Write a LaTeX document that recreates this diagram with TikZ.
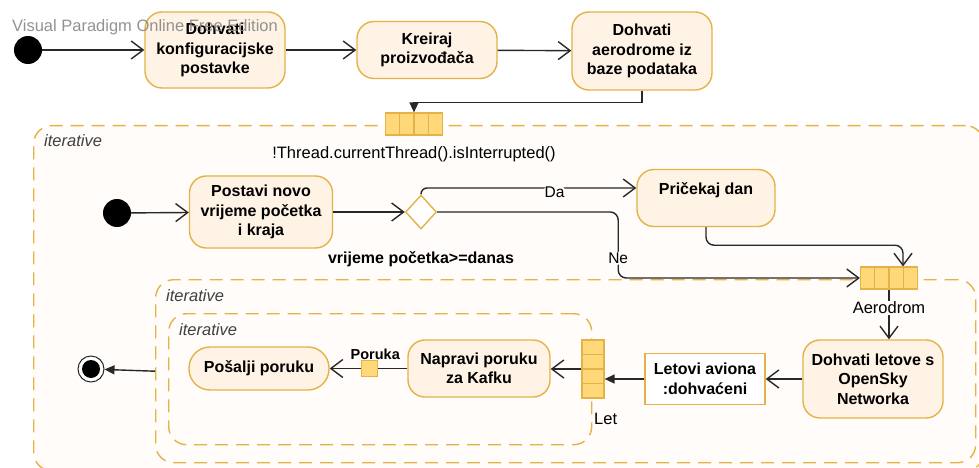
\documentclass[tikz,border=0pt]{standalone}
\usepackage{fontspec}
\setmainfont{Liberation Sans}
\usetikzlibrary{arrows.meta}
\usetikzlibrary{positioning}
\usetikzlibrary{calc}
\usetikzlibrary{shapes.geometric}

\definecolor{gold}{RGB}{229,178,72}
\definecolor{actfill}{RGB}{255,243,229}
\definecolor{pinfill}{RGB}{255,216,122}
\definecolor{regfill}{RGB}{255,252,249}
\definecolor{wire}{RGB}{40,40,40}

\begin{document}
\begin{tikzpicture}[x=1pt, y=-1pt,
    actbox/.style={draw=gold, fill=actfill, line width=1.4pt, rounded corners=17pt, align=center, inner sep=2pt, font=\bfseries\fontsize{16}{19.5}\selectfont},
    objbox/.style={draw=gold, fill=white, line width=1.4pt, align=center, inner sep=2pt, font=\bfseries\fontsize{16}{19.5}\selectfont},
    loopregion/.style={draw=gold, fill=regfill, line width=1.4pt, dash pattern=on 13pt off 8pt, rounded corners=18pt, anchor=north west, inner sep=0pt},
    itlabel/.style={font=\itshape\fontsize{16.5}{19}\selectfont, text=black!75, inner sep=0pt, anchor=north west},
    startdot/.style={circle, fill=black, minimum size=28pt, inner sep=0pt},
    pinh/.style={draw=gold, fill=pinfill, line width=1.2pt, minimum width=57pt, minimum height=22pt, inner sep=0pt,
        path picture={\foreach \i in {1,2,3} \draw[gold, line width=1.2pt] ($(path picture bounding box.south west)!\i/4!(path picture bounding box.south east)$) -- ($(path picture bounding box.north west)!\i/4!(path picture bounding box.north east)$);}},
    pinv/.style={draw=gold, fill=pinfill, line width=1.2pt, minimum width=22pt, minimum height=58pt, inner sep=0pt,
        path picture={\foreach \i in {1,2,3} \draw[gold, line width=1.2pt] ($(path picture bounding box.south west)!\i/4!(path picture bounding box.north west)$) -- ($(path picture bounding box.south east)!\i/4!(path picture bounding box.north east)$);}},
    smallpin/.style={draw=gold, fill=pinfill, line width=1.2pt, minimum size=16pt, inner sep=0pt},
    flow/.style={draw=wire, line width=1.4pt, -{Straight Barb[length=12pt, width=18pt]}},
    solidflow/.style={draw=wire, line width=1.4pt, -{Triangle[length=10pt, width=9pt]}},
    lbl/.style={font=\fontsize{16.5}{19}\selectfont, inner sep=1pt},
]
\fill[white] (0,0) rectangle (979,468);
\useasboundingbox (0,0) rectangle (979,468);

\node[loopregion, minimum width=950pt, minimum height=345pt] (loop1) at (33,125) {};
\node[itlabel] (it1) at ([shift={(11pt,-9pt)}]loop1.north west) {iterative};
\node[loopregion, minimum width=820pt, minimum height=183pt] (loop2) at (155,279) {};
\node[itlabel] (it2) at ([shift={(11pt,-10pt)}]loop2.north west) {iterative};
\node[loopregion, minimum width=423pt, minimum height=131pt] (loop3) at (168,313) {};
\node[itlabel] (it3) at ([shift={(11pt,-10pt)}]loop3.north west) {iterative};

\node[startdot] (init1) at (28,50) {};
\node[actbox, minimum width=140pt, minimum height=76pt] (conf) at (215,50) {Dohvati\\konfiguracijske\\postavke};
\node[actbox, minimum width=140pt, minimum height=57pt] (prod) at (427,50) {Kreiraj\\proizvođača};
\node[actbox, minimum width=140pt, minimum height=78pt] (airports) at (642,51) {Dohvati\\aerodrome iz\\baze podataka};
\node[pinh, label={[lbl, label distance=10pt]below:!Thread.currentThread().isInterrupted()}] (pin1) at (414,124) {};

\node[startdot] (init2) at (117,213) {};
\node[actbox, minimum width=143pt, minimum height=72pt] (reset) at (261,212) {Postavi novo\\vrijeme početka\\i kraja};
\node[diamond, draw=gold, fill=white, line width=1.4pt, minimum width=31pt, minimum height=34pt, inner sep=0pt] (check) at (421,212) {};
\node[lbl, font=\bfseries\fontsize{16}{19}\selectfont, below=21pt of check] (cond) {vrijeme početka>=danas};
\node[actbox, minimum width=138pt, minimum height=57pt] (wait) at (706,198) {Pričekaj dan\\[0pt]\mbox{}};
\node[pinh] (pin2) at (889,278) {};

\node[actbox, minimum width=140pt, minimum height=78pt] (flights) at (873,379) {Dohvati letove s\\OpenSky\\Networka};
\node[objbox, minimum width=120pt, minimum height=51pt] (flightobj) at (705,379) {Letovi aviona\\:dohvaćeni};
\node[pinv] (pin3) at (593,369) {};
\node[lbl, below right=13pt and 0pt of pin3.south] (letlbl) {Let};
\node[actbox, minimum width=142pt, minimum height=57pt] (kafka) at (479,368.5) {Napravi poruku\\za Kafku};
\node[actbox, minimum width=140pt, minimum height=43pt, rounded corners=21pt] (send) at (259,368.5) {Pošalji poruku};
\node[circle, draw=wire, fill=white, line width=1pt, minimum size=26pt, inner sep=0pt] (stop) at (91,369) {};
\node[circle, fill=black, minimum size=18pt, inner sep=0pt] (stopdot) at (stop) {};

\draw[flow] (init1) -- (conf);
\draw[flow] (conf) -- (prod);
\draw[flow] (prod) -- (airports);
\draw[solidflow] (airports.south) -- ++(0,12) -| (pin1.north);
\draw[flow] (init2) -- (reset);
\draw[flow] (reset) -- (check);
\draw[flow, rounded corners=6pt] (check.north) |- ([yshift=10pt]wait.west) node[lbl, pos=0.81, yshift=-4pt, fill=regfill, font=\fontsize{15.5}{18}\selectfont] {Da};
\draw[flow, rounded corners=8pt] (check.east) -- ++(181,0) |- (pin2.west) node[lbl, pos=0.35, fill=regfill, font=\fontsize{15.5}{18}\selectfont] {Ne};
\draw[flow, rounded corners=8pt] (wait.south) -- ++(0,18) -| ([xshift=14pt]pin2.north);
\draw[flow] (pin2.south) -- (pin2.south |- flights.north) node[lbl, pos=0.37, fill=regfill] {Aerodrom};
\draw[flow] (flights.west) -- (flightobj.east);
\draw[solidflow] (flightobj.west) -- (flightobj.west -| pin3.east);
\draw[flow] (pin3.west) -- (pin3.west -| kafka.east);
\draw[flow] (kafka.west) -- node[smallpin, pos=0.49, label={[lbl, font=\bfseries\fontsize{14.5}{17}\selectfont, label distance=-1pt, xshift=6pt]above:Poruka}] (msgpin) {} (send.east);
\draw[solidflow] (loop2.west) -- (stop);

\node[font=\fontsize{16.5}{19}\selectfont, text=black!50, text opacity=0.85, inner sep=0pt] (watermark) at (145,27) {Visual Paradigm Online Free Edition};
\end{tikzpicture}
\end{document}
